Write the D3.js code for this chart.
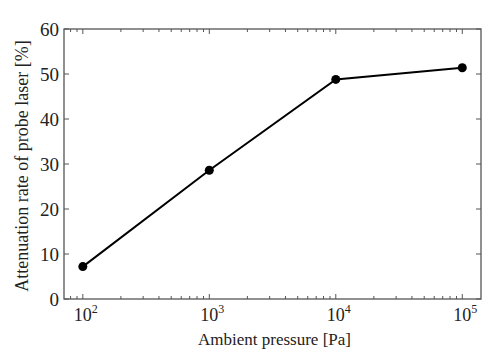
<!DOCTYPE html>
<html><head><meta charset="utf-8">
<script src="https://cdn.jsdelivr.net/npm/d3@7"></script>
<style>body{margin:0;background:#fff}svg{display:block}svg text{font-family:"Liberation Serif","Times New Roman",serif}</style>
</head><body>
<script>
const pressures = [100, 1000, 10000, 100000];
const attenuation = [7.2, 28.6, 48.8, 51.4];
const xTickExps = [2, 3, 4, 5];
const yTicks = [0, 10, 20, 30, 40, 50, 60];
const xLabel = "Ambient pressure [Pa]";
const yLabel = "Attenuation rate of probe laser [%]";

const W = 495, H = 357;
const m = {l: 64, r: 14, t: 29, b: 58};
const svg = d3.select("body").append("svg").attr("width", W).attr("height", H);
const axisCol = "#555";

const x = d3.scaleLog().domain([71, 140600]).range([m.l, W - m.r]);
const y = d3.scaleLinear().domain([0, 60]).range([H - m.b, m.t]);

const g = svg.append("g");
g.append("rect").attr("x", m.l).attr("y", m.t).attr("width", W - m.r - m.l).attr("height", H - m.b - m.t)
  .attr("fill", "none").attr("stroke", axisCol).attr("stroke-width", 1.3);

const minor = [];
for (let e = 1; e <= 5; e++) for (let k = 1; k <= 9; k++) {
  const v = k * Math.pow(10, e);
  if (v >= x.domain()[0] && v <= x.domain()[1]) minor.push({v, major: k === 1});
}
minor.forEach(d => {
  const len = d.major ? 5 : 3;
  g.append("line").attr("x1", x(d.v)).attr("x2", x(d.v)).attr("y1", y(0)).attr("y2", y(0) - len).attr("stroke", axisCol).attr("stroke-width", 1);
  g.append("line").attr("x1", x(d.v)).attr("x2", x(d.v)).attr("y1", y(60)).attr("y2", y(60) + len).attr("stroke", axisCol).attr("stroke-width", 1);
});
yTicks.forEach(t => {
  g.append("line").attr("x1", m.l).attr("x2", m.l + 5).attr("y1", y(t)).attr("y2", y(t)).attr("stroke", axisCol).attr("stroke-width", 1);
  g.append("line").attr("x1", W - m.r).attr("x2", W - m.r - 5).attr("y1", y(t)).attr("y2", y(t)).attr("stroke", axisCol).attr("stroke-width", 1);
  g.append("text").attr("x", m.l - 5).attr("y", y(t)).attr("dy", "0.35em").attr("text-anchor", "end")
    .attr("font-size", 19).attr("fill", "#222").text(t);
});
xTickExps.forEach(e => {
  const t = g.append("text").attr("x", x(Math.pow(10, e)) + 3).attr("y", y(0) + 22).attr("text-anchor", "middle")
    .attr("font-size", 18).attr("fill", "#222");
  t.append("tspan").text("10");
  t.append("tspan").attr("dy", -8).attr("font-size", 12).text(e);
});
svg.append("text").attr("x", (m.l + W - m.r) / 2 + 2).attr("y", H - 12).attr("text-anchor", "middle")
  .attr("font-size", 17).attr("fill", "#222").text(xLabel);
svg.append("text").attr("transform", `translate(28,${(m.t + H - m.b) / 2 + 2}) rotate(-90)`).attr("text-anchor", "middle")
  .attr("font-size", 18).attr("fill", "#222").text(yLabel);

const data = pressures.map((p, i) => ({p, v: attenuation[i]}));
svg.append("path").datum(data).attr("fill", "none").attr("stroke", "#000").attr("stroke-width", 2)
  .attr("d", d3.line().x(d => x(d.p)).y(d => y(d.v)));
svg.selectAll("circle.pt").data(data).enter().append("circle").attr("class", "pt")
  .attr("cx", d => x(d.p)).attr("cy", d => y(d.v)).attr("r", 4.5).attr("fill", "#000");
</script>
</body></html>
